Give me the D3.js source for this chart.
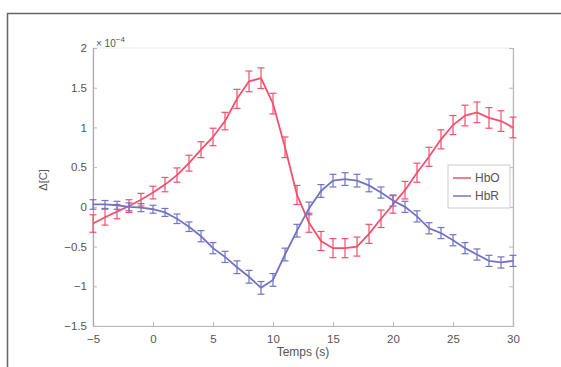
<!DOCTYPE html>
<html><head><meta charset="utf-8">
<script src="https://cdn.jsdelivr.net/npm/d3@7"></script>
<style>body{margin:0;background:#fff}svg{display:block}text{font-family:"Liberation Sans",Arial,sans-serif}</style>
</head><body><svg id="c" width="561" height="367"></svg>
<script>
const times = d3.range(-5, 31, 1);
const hbo = [-0.21,-0.13,-0.06,0.01,0.09,0.18,0.28,0.40,0.55,0.72,0.88,1.08,1.36,1.58,1.62,1.30,0.75,0.15,-0.20,-0.43,-0.52,-0.52,-0.50,-0.34,-0.15,0.03,0.21,0.43,0.63,0.85,1.03,1.15,1.19,1.12,1.08,1.00];
const hboErr = [0.11,0.10,0.09,0.08,0.08,0.08,0.09,0.09,0.10,0.10,0.11,0.11,0.12,0.13,0.13,0.13,0.13,0.12,0.12,0.12,0.12,0.12,0.12,0.12,0.11,0.11,0.11,0.12,0.12,0.12,0.12,0.13,0.13,0.13,0.13,0.13];
const hbr = [0.03,0.03,0.02,0.00,-0.01,-0.03,-0.07,-0.15,-0.25,-0.37,-0.52,-0.63,-0.76,-0.88,-1.02,-0.92,-0.60,-0.30,-0.02,0.20,0.33,0.35,0.33,0.27,0.18,0.08,0.00,-0.12,-0.27,-0.33,-0.42,-0.52,-0.60,-0.68,-0.70,-0.68];
const hbrErr = [0.06,0.05,0.05,0.05,0.05,0.05,0.05,0.06,0.06,0.07,0.07,0.07,0.08,0.08,0.08,0.08,0.08,0.08,0.08,0.08,0.08,0.08,0.08,0.08,0.07,0.07,0.07,0.07,0.07,0.07,0.07,0.07,0.07,0.07,0.07,0.07];
const xTicks = [-5,0,5,10,15,20,25,30];
const yTicks = [-1.5,-1,-0.5,0,0.5,1,1.5,2];
const seriesNames = ["HbO","HbR"];
const colors = ["#f2506f","#7373c2"];

const svg = d3.select("#c");
svg.append("line").attr("x1",7).attr("x2",561).attr("y1",13.5).attr("y2",13.5).attr("stroke","#666").attr("stroke-width",1.5);
svg.append("line").attr("x1",7.5).attr("x2",7.5).attr("y1",13).attr("y2",367).attr("stroke","#666").attr("stroke-width",1.5);

const L=93, R=513, T=48, B=326;
const x = d3.scaleLinear().domain([-5,30]).range([L,R]);
const y = d3.scaleLinear().domain([-1.5,2]).range([B,T]);
const fmt = d => (d<0?"\u2212":"") + Math.abs(d);

const axCol="#b8b8b8", txtCol="#555";
svg.append("rect").attr("x",L).attr("y",T).attr("width",R-L).attr("height",B-T).attr("fill","none").attr("stroke","#ececec");
const gx = svg.append("g").attr("transform",`translate(0,${B})`).call(d3.axisBottom(x).tickValues(xTicks).tickSize(-4).tickPadding(9).tickFormat(fmt));
const gy = svg.append("g").attr("transform",`translate(${L},0)`).call(d3.axisLeft(y).tickValues(yTicks).tickSize(-4).tickPadding(6).tickFormat(fmt));
const gr = svg.append("g").attr("transform",`translate(${R},0)`).call(d3.axisRight(y).tickValues(yTicks).tickSize(-4).tickFormat(""));
[gx,gy,gr].forEach(g=>{g.select(".domain").attr("stroke",axCol).attr("stroke-width",1.2);g.selectAll(".tick line").attr("stroke",axCol);g.selectAll("text").attr("fill",txtCol).attr("font-size",11.5);});
gy.select(".domain").attr("stroke","#aaa");

const ex = svg.append("text").attr("x",96).attr("y",47).attr("fill",txtCol).attr("font-size",10);
ex.append("tspan").text("\u00d7 10");
ex.append("tspan").attr("dy",-5).attr("font-size",8).text("\u22124");

svg.append("text").attr("x",(L+R)/2).attr("y",356).attr("text-anchor","middle").attr("fill",txtCol).attr("font-size",12).text("Temps (s)");
svg.append("text").attr("transform","translate(47,180) rotate(-90)").attr("text-anchor","middle").attr("fill",txtCol).attr("font-size",11).text("\u0394[C]");

const data = [hbo,hbr], errs=[hboErr,hbrErr];
const line = d3.line().x((d,i)=>x(times[i])).y(d=>y(d));
data.forEach((vals,k)=>{
  const g = svg.append("g").attr("stroke",colors[k]).attr("fill","none").attr("stroke-width",1.2);
  times.forEach((t,i)=>{
    const cx=x(t), y1=y(vals[i]-errs[k][i]), y2=y(vals[i]+errs[k][i]);
    g.append("line").attr("x1",cx).attr("x2",cx).attr("y1",y1).attr("y2",y2);
    g.append("line").attr("x1",cx-3.5).attr("x2",cx+3.5).attr("y1",y1).attr("y2",y1);
    g.append("line").attr("x1",cx-3.5).attr("x2",cx+3.5).attr("y1",y2).attr("y2",y2);
  });
  svg.append("path").datum(vals).attr("d",line).attr("fill","none").attr("stroke",colors[k]).attr("stroke-width",1.8);
});

const lg = svg.append("g");
lg.append("rect").attr("x",448).attr("y",165).attr("width",62).attr("height",43).attr("fill","#fff").attr("stroke","#ccc");
seriesNames.forEach((n,i)=>{
  const yy = 178 + i*18;
  lg.append("line").attr("x1",453).attr("x2",471).attr("y1",yy).attr("y2",yy).attr("stroke",colors[i]).attr("stroke-width",1.5);
  lg.append("text").attr("x",475).attr("y",yy+4).attr("fill",txtCol).attr("font-size",12).text(n);
});
</script></body></html>
